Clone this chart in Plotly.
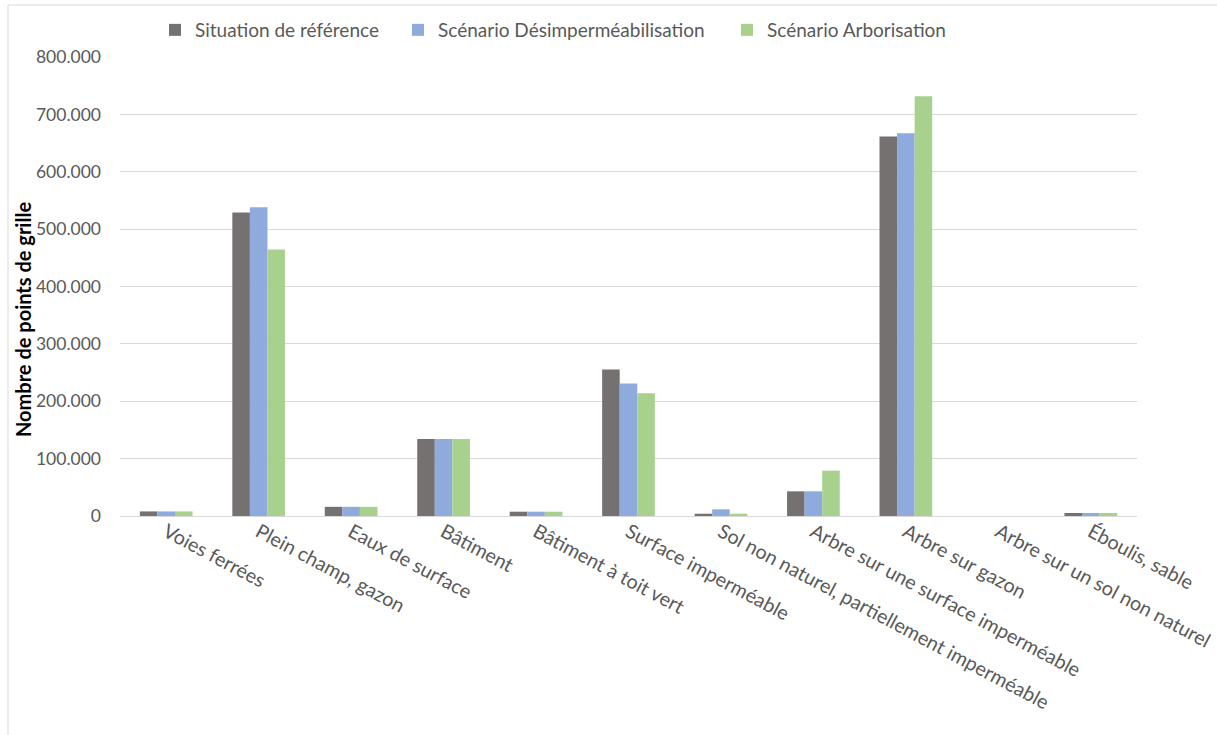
import plotly.graph_objects as go

# Land-cover classes on the x axis
categories = [
    "Voies ferrées",
    "Plein champ, gazon",
    "Eaux de surface",
    "Bâtiment",
    "Bâtiment à toit vert",
    "Surface imperméable",
    "Sol non naturel, partiellement imperméable",
    "Arbre sur une surface imperméable",
    "Arbre sur gazon",
    "Arbre sur un sol non naturel",
    "Éboulis, sable",
]

# Number of grid points per class and scenario
reference = [8000, 529000, 16000, 134000, 7500, 255500, 4000, 43000, 661500, 0, 5200]
desimpermeabilisation = [8000, 538000, 16000, 134000, 7500, 231000, 11600, 43000, 667000, 0, 5200]
arborisation = [8000, 464500, 16000, 134000, 7500, 214000, 4000, 79000, 731500, 0, 5200]

series_names = ["Situation de référence", "Scénario Désimperméabilisation", "Scénario Arborisation"]
series_colors = ["#767171", "#8faadc", "#a9d18e"]

y_ticks = list(range(0, 800001, 100000))

PLOT_L, PLOT_R, PLOT_T, PLOT_B = 120, 80, 57, 219
W, H = 1217, 735
plot_w = W - PLOT_L - PLOT_R
plot_h = H - PLOT_T - PLOT_B


def px_to_paper_x(px):
    return (px - PLOT_L) / plot_w


def px_to_paper_y(py):
    return (H - PLOT_B - py) / plot_h


font_family = "Lato, Open Sans, sans-serif"

# one legend box per series so each entry sits at its own spot
legend_ids = ["legend", "legend2", "legend3"]
legend_left_px = [155, 398, 727]

fig = go.Figure()
for name, values, color, lid in zip(series_names, [reference, desimpermeabilisation, arborisation],
                                    series_colors, legend_ids):
    fig.add_trace(go.Bar(
        x=categories,
        y=values,
        name=name,
        legend=lid,
        showlegend=True,
        marker=dict(color=color, line=dict(width=0)),
    ))

legend_common = dict(
    orientation="h",
    xanchor="left",
    yanchor="middle",
    y=px_to_paper_y(30),
    font=dict(size=19, color="#595959", family=font_family),
    itemwidth=30,
    bgcolor="rgba(0,0,0,0)",
    borderwidth=0,
    visible=True,
)

layout_legends = {}
for lid, lx in zip(legend_ids, legend_left_px):
    layout_legends[lid] = dict(legend_common, x=px_to_paper_x(lx))

fig.update_layout(
    width=W,
    height=H,
    showlegend=True,
    barmode="group",
    bargap=0.43,
    bargroupgap=0,
    separators=",.",
    paper_bgcolor="white",
    plot_bgcolor="white",
    font=dict(family=font_family, size=17, color="#595959"),
    margin=dict(l=PLOT_L, r=PLOT_R, t=PLOT_T, b=PLOT_B, autoexpand=False),
    xaxis=dict(
        tickangle=28,
        showgrid=False,
        showline=False,
        ticks="",
        tickfont=dict(size=19.7, color="#595959"),
    ),
    yaxis=dict(
        range=[0, 800000],
        tickvals=y_ticks,
        tickformat=",d",
        showgrid=True,
        gridcolor="#d9d9d9",
        gridwidth=1.3,
        zeroline=True,
        zerolinecolor="#d9d9d9",
        zerolinewidth=1.3,
        showline=False,
        ticks="",
        ticklabelstandoff=18,
        tickfont=dict(size=17.5, color="#595959"),
    ),
    annotations=[
        dict(
            text="<b>Nombre de points de grille</b>",
            xref="paper",
            yref="paper",
            x=px_to_paper_x(23),
            y=px_to_paper_y(320),
            xanchor="center",
            yanchor="middle",
            textangle=-90,
            showarrow=False,
            font=dict(size=20, color="#000000", family=font_family),
        )
    ],
    shapes=[
        dict(
            type="rect",
            xref="paper",
            yref="paper",
            x0=px_to_paper_x(8),
            x1=1.2,
            y0=-1.0,
            y1=px_to_paper_y(5),
            line=dict(color="#d9d9d9", width=1),
            fillcolor="rgba(0,0,0,0)",
            layer="below",
        )
    ],
    **layout_legends,
)

fig.write_html("out.html")
